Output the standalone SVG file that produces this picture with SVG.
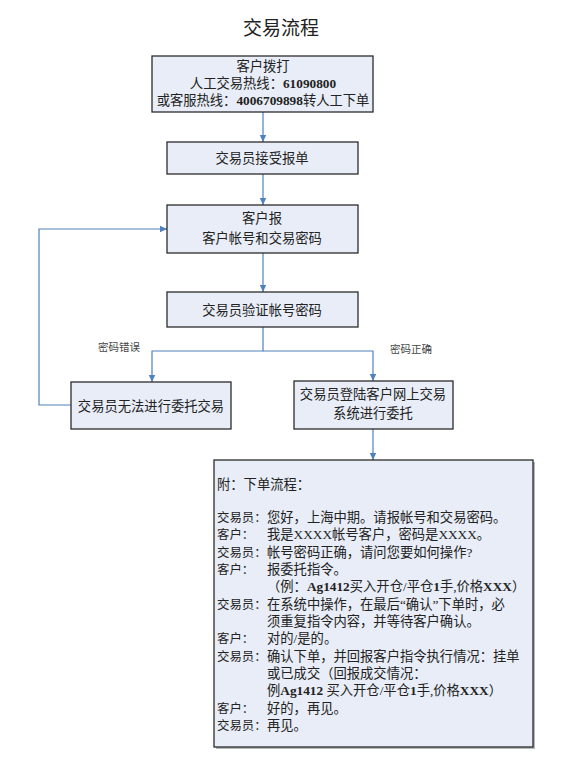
<svg xmlns="http://www.w3.org/2000/svg" width="574" height="775" viewBox="0 0 574 775">
<defs>
<marker id="arr" markerWidth="8" markerHeight="8" refX="7" refY="4" orient="auto" markerUnits="userSpaceOnUse">
<path d="M0,0.8 L7,4 L0,7.2 Z" fill="#4f81bd"/>
</marker>
</defs>
<style>
text{font-family:"Liberation Serif","Noto Sans CJK SC",serif;fill:#222;}
.box{fill:#e8edf7;stroke:#2b2b2b;stroke-width:1.3;}
.sh{fill:#b5b8bd;}
.t{font-size:13.3px;text-anchor:middle;}
.b{font-weight:bold;}
.lbl{font-size:10.5px;fill:#444;}
.n{font-size:13.3px;}
.k{font-size:12.4px;}
.con{fill:none;stroke:#4f81bd;stroke-width:1.2;}
</style>
<rect width="574" height="775" fill="#ffffff"/>
<text x="281" y="35" style="font-size:19px;text-anchor:middle">交易流程</text>

<g id="connectors">
<path class="con" d="M263,112 V142" marker-end="url(#arr)"/>
<path class="con" d="M263,174 V205" marker-end="url(#arr)"/>
<path class="con" d="M263,253 V292" marker-end="url(#arr)"/>
<path class="con" d="M263,327 V351 H152 V382" marker-end="url(#arr)"/>
<path class="con" d="M263,351 H373 V381" marker-end="url(#arr)"/>
<path class="con" d="M373,429 V460" marker-end="url(#arr)"/>
<path class="con" d="M71,405 H39 V229 H167" marker-end="url(#arr)"/>
<text class="lbl" x="98" y="351">密码错误</text>
<text class="lbl" x="390" y="353">密码正确</text>
</g>

<g id="n1">
<rect class="box" x="152" y="56" width="221" height="56"/>
<text class="t" x="263" y="71">客户拨打</text>
<text class="t" x="263" y="88">人工交易热线：<tspan class="b">61090800</tspan></text>
<text class="t" x="263" y="105">或客服热线：<tspan class="b">4006709898</tspan>转人工下单</text>
</g>

<g id="n2">
<rect class="box" x="167" y="142" width="191" height="32"/>
<text class="t" x="262" y="163">交易员接受报单</text>
</g>

<g id="n3">
<rect class="box" x="167" y="205" width="191" height="48"/>
<text class="t" x="262" y="223">客户报</text>
<text class="t" x="262" y="243">客户帐号和交易密码</text>
</g>

<g id="n4">
<rect class="box" x="167" y="292" width="191" height="35"/>
<text class="t" x="262" y="315">交易员验证帐号密码</text>
</g>

<g id="n5">
<rect class="box" x="71" y="382" width="160" height="47"/>
<text class="t" x="151" y="411">交易员无法进行委托交易</text>
</g>

<g id="n6">
<rect class="box" x="294" y="381" width="159" height="48"/>
<text class="t" x="373" y="399">交易员登陆客户网上交易</text>
<text class="t" x="373" y="418">系统进行委托</text>
</g>

<g id="n7">
<rect class="sh" x="216" y="462" width="319" height="287"/>
<rect class="box" x="214" y="460" width="319" height="287"/>
<g class="n">
<text x="217" y="489">附：下单流程：</text>
<text class="k" x="217" y="522">交易员：</text><text x="267" y="522">您好，上海中期。请报帐号和交易密码。</text>
<text class="k" x="217" y="539">客户：</text><text x="267" y="539">我是XXXX帐号客户，密码是XXXX。</text>
<text class="k" x="217" y="557">交易员：</text><text x="267" y="557">帐号密码正确，请问您要如何操作?</text>
<text class="k" x="217" y="574">客户：</text><text x="267" y="574">报委托指令。</text>
<text x="267" y="591">（例：<tspan class="b">Ag1412</tspan>买入开仓/平仓<tspan class="b">1</tspan>手,价格<tspan class="b">XXX</tspan>）</text>
<text class="k" x="217" y="609">交易员：</text><text x="267" y="609">在系统中操作，在最后“确认”下单时，必</text>
<text x="267" y="626">须重复指令内容，并等待客户确认。</text>
<text class="k" x="217" y="643">客户：</text><text x="267" y="643">对的/是的。</text>
<text class="k" x="217" y="661">交易员：</text><text x="267" y="661">确认下单，并回报客户指令执行情况：挂单</text>
<text x="267" y="678">或已成交（回报成交情况：</text>
<text x="267" y="695">例<tspan class="b">Ag1412</tspan> 买入开仓/平仓<tspan class="b">1</tspan>手,价格<tspan class="b">XXX</tspan>）</text>
<text class="k" x="217" y="713">客户：</text><text x="267" y="713">好的，再见。</text>
<text class="k" x="217" y="730">交易员：</text><text x="267" y="730">再见。</text>
</g>
</g>
</svg>
